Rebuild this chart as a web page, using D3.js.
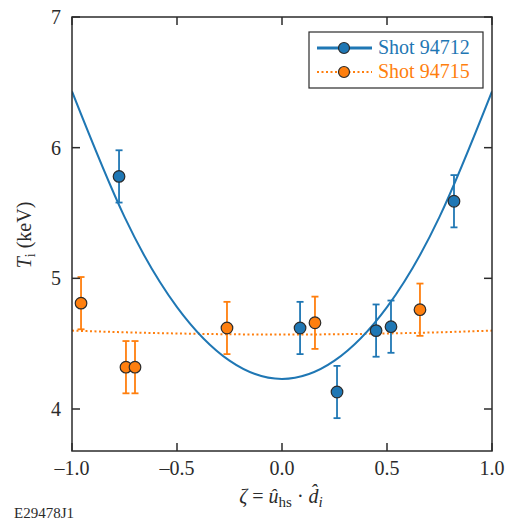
<!DOCTYPE html>
<html><head><meta charset="utf-8">
<script src="https://cdn.jsdelivr.net/npm/d3@7"></script>
<style>body{margin:0;background:#fff}svg{display:block}</style>
</head><body>
<svg id="c" width="513" height="521"></svg>
<script>
// Data
const shotA = "Shot 94712", shotB = "Shot 94715";
const aX = [-0.776, 0.086, 0.262, 0.448, 0.519, 0.819];
const aT = [5.78, 4.62, 4.13, 4.60, 4.63, 5.59];
const aErr = [0.2, 0.2, 0.2, 0.2, 0.2, 0.2];
const bX = [-0.957, -0.743, -0.700, -0.262, 0.157, 0.657];
const bT = [4.81, 4.32, 4.32, 4.62, 4.66, 4.76];
const bErr = [0.2, 0.2, 0.2, 0.2, 0.2, 0.2];
// fit curves
const fitX = [-1, -0.75, -0.5, -0.25, 0, 0.25, 0.5, 0.75, 1];
const fitA = [6.43, 5.47, 4.78, 4.37, 4.23, 4.37, 4.78, 5.47, 6.43];
const fitB = [4.60, 4.587, 4.578, 4.572, 4.57, 4.572, 4.578, 4.587, 4.60];
const xTicks = [-1.0, -0.5, 0.0, 0.5, 1.0];
const yTicks = [4, 5, 6, 7];

const FF = "Liberation Serif";
const blue = "#1f77b4", orange = "#ff7f0e", ink = "#2b2b2b";
const svg = d3.select("#c");
const L = 72, R = 492, T = 17, B = 451;
const x = d3.scaleLinear().domain([-1, 1]).range([L, R]);
const y = d3.scaleLinear().domain([4, 7]).range([409, T]);

const g = svg.append("g");
svg.append("clipPath").attr("id","clip").append("rect").attr("x",L).attr("y",T).attr("width",R-L).attr("height",B-T);

const line = d3.line().x(d=>x(d[0])).y(d=>y(d[1])).curve(d3.curveNatural);
const plot = g.append("g").attr("clip-path","url(#clip)");
plot.append("path").datum(fitX.map((v,i)=>[v,fitB[i]])).attr("d",line)
  .attr("fill","none").attr("stroke",orange).attr("stroke-width",2).attr("stroke-dasharray","2,2.5");
plot.append("path").datum(fitX.map((v,i)=>[v,fitA[i]])).attr("d",line)
  .attr("fill","none").attr("stroke",blue).attr("stroke-width",2);

function points(xs, ts, es, col){
  const d = xs.map((v,i)=>({x:v,t:ts[i],e:es[i]}));
  const eg = g.append("g").attr("stroke",col).attr("stroke-width",1.8);
  eg.selectAll("line.v").data(d).join("line").attr("x1",d=>x(d.x)).attr("x2",d=>x(d.x))
    .attr("y1",d=>y(d.t+d.e)).attr("y2",d=>y(d.t-d.e));
  eg.selectAll("line.t").data(d).join("line").attr("x1",d=>x(d.x)-3.5).attr("x2",d=>x(d.x)+3.5)
    .attr("y1",d=>y(d.t+d.e)).attr("y2",d=>y(d.t+d.e));
  eg.selectAll("line.b").data(d).join("line").attr("x1",d=>x(d.x)-3.5).attr("x2",d=>x(d.x)+3.5)
    .attr("y1",d=>y(d.t-d.e)).attr("y2",d=>y(d.t-d.e));
  g.append("g").selectAll("circle").data(d).join("circle").attr("cx",d=>x(d.x)).attr("cy",d=>y(d.t))
    .attr("r",5.8).attr("fill",col).attr("stroke",ink).attr("stroke-width",1.2);
}
points(bX, bT, bErr, orange);
points(aX, aT, aErr, blue);

// frame
g.append("rect").attr("x",L).attr("y",T).attr("width",R-L).attr("height",B-T)
  .attr("fill","none").attr("stroke",ink).attr("stroke-width",1.5);
const ax = g.append("g").attr("stroke",ink).attr("stroke-width",1.5);
const tl = 8;
xTicks.forEach(v=>{
  ax.append("line").attr("x1",x(v)).attr("x2",x(v)).attr("y1",B).attr("y2",B-tl);
  ax.append("line").attr("x1",x(v)).attr("x2",x(v)).attr("y1",T).attr("y2",T+tl);
});
yTicks.forEach(v=>{
  ax.append("line").attr("x1",L).attr("x2",L+tl).attr("y1",y(v)).attr("y2",y(v));
  ax.append("line").attr("x1",R).attr("x2",R-tl).attr("y1",y(v)).attr("y2",y(v));
});
const fmt = v => (v<0?"\u2013":"") + Math.abs(v).toFixed(1);
g.selectAll("text.xt").data(xTicks).join("text").attr("font-family",FF).attr("x",d=>x(d)).attr("y",475)
  .attr("text-anchor","middle").attr("font-size",20).attr("fill",ink).text(fmt);
g.selectAll("text.yt").data(yTicks).join("text").attr("font-family",FF).attr("x",61).attr("y",d=>y(d)+7)
  .attr("text-anchor","end").attr("font-size",20).attr("fill",ink).text(d=>d);

// axis labels
const yl = g.append("text").attr("font-family",FF).attr("transform","translate(31,235) rotate(-90)").attr("text-anchor","middle")
  .attr("font-size",20).attr("fill",ink);
yl.append("tspan").attr("font-style","italic").text("T");
yl.append("tspan").attr("font-size",14).attr("dy",4).text("i");
yl.append("tspan").attr("dy",-4).text(" (keV)");

const xl = g.append("text").attr("font-family",FF).attr("x",281).attr("y",503).attr("text-anchor","middle").attr("font-size",20).attr("fill",ink);
xl.append("tspan").attr("font-style","italic").text("\u03b6");
xl.append("tspan").text(" = ");
xl.append("tspan").attr("font-style","italic").text("\u00fb");
xl.append("tspan").attr("font-size",15).attr("dy",4).text("hs");
xl.append("tspan").attr("dy",-4).text(" \u00b7 ");
xl.append("tspan").attr("font-style","italic").text("d\u0302");
xl.append("tspan").attr("font-style","italic").attr("font-size",15).attr("dy",4).text("i");

g.append("text").attr("font-family",FF).attr("x",14).attr("y",518).attr("font-size",15).attr("fill",ink).text("E29478J1");

// legend
const lg = g.append("g");
lg.append("rect").attr("x",309).attr("y",32).attr("width",174).attr("height",56)
  .attr("fill","#fff").attr("stroke",ink).attr("stroke-width",1.2);
[[shotA,blue,null,48],[shotB,orange,"2,2.5",72]].forEach(([lab,col,da,yy])=>{
  lg.append("line").attr("x1",317).attr("x2",372).attr("y1",yy).attr("y2",yy).attr("stroke",col)
    .attr("stroke-width",da?2:3).attr("stroke-dasharray",da);
  lg.append("circle").attr("cx",344).attr("cy",yy).attr("r",5.5).attr("fill",col).attr("stroke",ink).attr("stroke-width",1.2);
  lg.append("text").attr("font-family",FF).attr("x",378).attr("y",yy+6).attr("font-size",20).attr("fill",col).text(lab);
});
</script>
</body></html>
